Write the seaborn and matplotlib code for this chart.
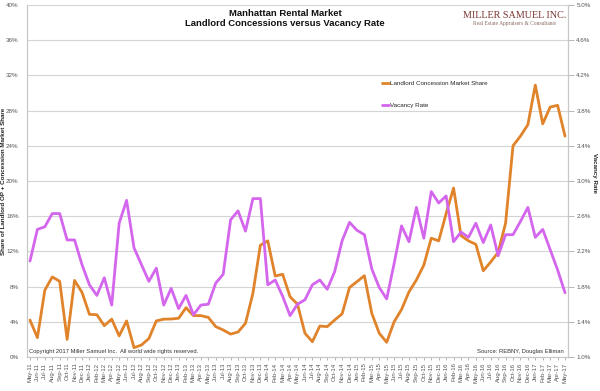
import matplotlib
matplotlib.use("Agg")
import matplotlib.pyplot as plt
import seaborn as sns
import pandas as pd
import numpy as np
from matplotlib.ticker import FuncFormatter
from matplotlib.lines import Line2D

months = list(pd.date_range("2011-05-01", periods=73, freq="MS").strftime("%b-%y"))

concession_share = [
    4.2, 2.2, 7.6, 9.1, 8.6, 2.0, 8.7, 7.35, 4.85, 4.8,
    3.56, 4.3, 2.4, 4.1, 1.06, 1.36, 2.1, 4.1, 4.3, 4.32,
    4.4, 5.6, 4.7, 4.7, 4.5, 3.45, 3.07, 2.6, 2.84, 3.83,
    7.24, 12.7, 13.2, 9.2, 9.4, 6.85, 6.0, 2.7, 1.74, 3.52,
    3.45, 4.2, 4.9, 7.9, 8.56, 9.24, 4.96, 2.7, 1.67, 4.0,
    5.4, 7.4, 8.75, 10.45, 13.5, 13.2, 16.3, 19.2, 13.8, 13.2,
    12.8, 9.8, 10.8, 11.9, 15.2, 24.0, 25.1, 26.4, 30.9, 26.5,
    28.4, 28.6, 25.1,
]

vacancy_rate = [
    2.09, 2.45, 2.48, 2.63, 2.63, 2.33, 2.33, 2.05, 1.82, 1.70,
    1.90, 1.59, 2.52, 2.78, 2.24, 2.05, 1.86, 2.01, 1.59, 1.78,
    1.55, 1.70, 1.48, 1.59, 1.60, 1.84, 1.94, 2.56, 2.66, 2.43,
    2.80, 2.80, 1.82, 1.875, 1.69, 1.47, 1.60, 1.65, 1.82, 1.875,
    1.77, 1.97, 2.32, 2.53, 2.44, 2.39, 2.00, 1.79, 1.66, 2.06,
    2.49, 2.31, 2.70, 2.35, 2.88, 2.75, 2.83, 2.31, 2.42, 2.36,
    2.52, 2.30, 2.50, 2.15, 2.39, 2.39, 2.54, 2.70, 2.36, 2.45,
    2.22, 1.99, 1.73,
]

left_ticks = [0, 4, 8, 12, 16, 20, 24, 28, 32, 36, 40]
right_ticks = [1.0, 1.4, 1.8, 2.2, 2.6, 3.0, 3.4, 3.8, 4.2, 4.6, 5.0]

df = pd.DataFrame({
    "idx": np.arange(len(months)),
    "month": months,
    "concession": concession_share,
    "vacancy": vacancy_rate,
})

ORANGE = "#E0832A"
PURPLE = "#D466EE"
GRID = "#d4d4d4"
TICKC = "#555555"

sns.set_style("white")
plt.rcParams["font.family"] = ["Liberation Sans", "DejaVu Sans"]

fig = plt.figure(figsize=(6.0, 3.91), dpi=100)
ax = fig.add_axes([27/600, 1-357/391, (568-27)/600, (357-5)/391])
ax2 = ax.twinx()

sns.lineplot(data=df, x="idx", y="concession", ax=ax, color=ORANGE, linewidth=2.0)
sns.lineplot(data=df, x="idx", y="vacancy", ax=ax2, color=PURPLE, linewidth=2.0)

ax.set_xlim(-0.4, len(months) - 1 + 0.4)
ax.set_ylim(left_ticks[0], left_ticks[-1])
ax2.set_ylim(right_ticks[0], right_ticks[-1])
ax.set_yticks(left_ticks)
ax2.set_yticks(right_ticks)
ax.yaxis.set_major_formatter(FuncFormatter(lambda v, p: f"{v:.0f}%"))
ax2.yaxis.set_major_formatter(FuncFormatter(lambda v, p: f"{v:.1f}%"))

ax.grid(axis="y", color=GRID, linewidth=0.8)
ax.set_axisbelow(True)
ax2.grid(False)

ax.set_xticks(df["idx"])
ax.set_xticklabels(months, rotation=90, fontsize=4.3, color=TICKC)
ax.tick_params(axis="x", length=2, width=0.5, color="#999999", pad=2, bottom=True)
ax.tick_params(axis="y", labelsize=4.5, labelcolor=TICKC, length=0, pad=6)
ax2.tick_params(axis="y", labelsize=4.5, labelcolor=TICKC, length=4, width=0.5,
                color="#999999", pad=2)

for a in (ax, ax2):
    a.spines["top"].set_visible(False)
    for s in ("left", "right", "bottom"):
        a.spines[s].set_color("#c8c8c8")
        a.spines[s].set_linewidth(0.8)

ax.set_xlabel("")
ax.set_ylabel("Share of Landlord OP + Concession Market Share", fontsize=4.5,
              fontweight="bold", color="#222222")
ax.yaxis.set_label_coords((6 - 27) / 541, 0.5)
ax2.set_ylabel("Vacancy Rate", fontsize=4.5, fontweight="bold", color="#222222",
               rotation=-90, va="center")
ax2.yaxis.set_label_coords((594 - 27) / 541, (357 - 173) / 352)

fig.text(285/600, 1-13/391, "Manhattan Rental Market", ha="center", va="center",
         fontsize=6.8, fontweight="bold", color="#111111")
fig.text(285/600, 1-23/391, "Landlord Concessions versus Vacancy Rate", ha="center",
         va="center", fontsize=6.8, fontweight="bold", color="#111111")

fig.text(515/600, 1-15/391, "MILLER SAMUEL INC.", ha="center", va="center",
         fontsize=7.3, family=["Liberation Serif", "DejaVu Serif"], color="#7a3530")
fig.text(515/600, 1-24/391, "Real Estate Appraisers & Consultants", ha="center", va="center",
         fontsize=4.0, family=["Liberation Serif", "DejaVu Serif"], color="#8a6a60")

fig.text(29/600, 1-351/391, "Copyright 2017 Miller Samuel Inc.  All world wide rights reserved.",
         ha="left", va="center", fontsize=4.2, color="#333333")
fig.text(564/600, 1-351/391, "Source: REBNY, Douglas Elliman",
         ha="right", va="center", fontsize=4.2, color="#333333")

handles = [Line2D([0], [0], color=ORANGE, linewidth=2.0),
           Line2D([0], [0], color=PURPLE, linewidth=2.0)]
fig.legend(handles, ["Landlord Concession Market Share", "Vacancy Rate"],
           loc="upper left", bbox_to_anchor=(382/600, 1-81/391), frameon=False,
           fontsize=4.5, handlelength=1.1, handletextpad=0.1, labelspacing=2.6,
           borderpad=0, borderaxespad=0)

fig.savefig("out.png", dpi=100)
